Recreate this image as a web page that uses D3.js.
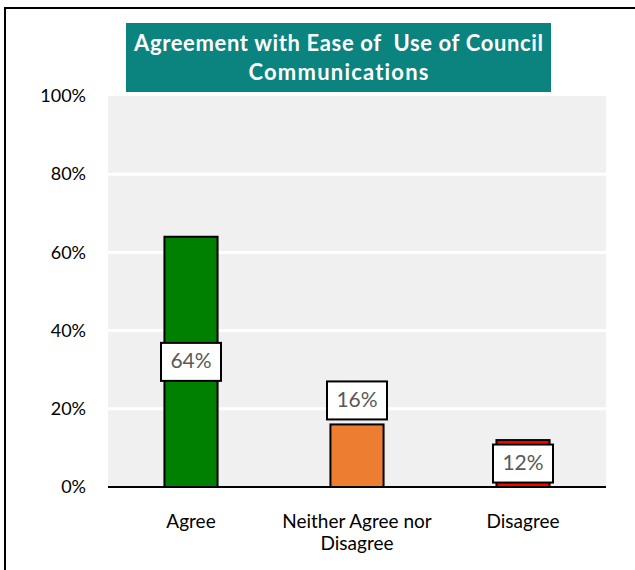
<!DOCTYPE html>
<html>
<head>
<meta charset="utf-8">
<script src="https://cdn.jsdelivr.net/npm/d3@7"></script>
<style>
  html, body { margin: 0; padding: 0; background: #fff; }
  svg { display: block; }
  text { font-variant-ligatures: none; }
</style>
</head>
<body>
<svg id="chart" width="635" height="570"></svg>
<script>
// Survey results: agreement with ease of use of council communications
const categories = ["Agree", "Neither Agree nor Disagree", "Disagree"];
const categoryLines = [["Agree"], ["Neither Agree nor", "Disagree"], ["Disagree"]];
const values = [64, 16, 12];
const barColors = ["#008000", "#ed7d31", "#ff0000"];
const labelPlacement = ["center", "outside", "center"];
const yTicks = [0, 20, 40, 60, 80, 100];
const titleLines = ["Agreement with Ease of  Use of Council", "Communications"];

const svg = d3.select("#chart");
const font = "Lato, 'Noto Sans', sans-serif";

// outer frame
svg.append("path")
  .attr("d", "M5,570 V8 H640")
  .attr("fill", "none")
  .attr("stroke", "#000")
  .attr("stroke-width", 2);

const plot = { left: 108, right: 606, top: 96, bottom: 487 };

const x = d3.scaleBand()
  .domain(categories)
  .range([plot.left, plot.right])
  .paddingInner(0.68)
  .paddingOuter(0.34);

const y = d3.scaleLinear()
  .domain([0, 100])
  .range([plot.bottom, plot.top]);

// plot background
svg.append("rect")
  .attr("x", plot.left).attr("y", plot.top)
  .attr("width", plot.right - plot.left)
  .attr("height", plot.bottom - plot.top)
  .attr("fill", "#f0f0f0");

// gridlines
svg.append("g")
  .selectAll("line")
  .data(yTicks.filter(t => t > 0 && t < 100))
  .join("line")
  .attr("x1", plot.left).attr("x2", plot.right)
  .attr("y1", d => y(d)).attr("y2", d => y(d))
  .attr("stroke", "#fff")
  .attr("stroke-width", 3);

// y axis labels
const yAxis = svg.append("g")
  .attr("transform", `translate(${plot.left},0)`)
  .call(d3.axisLeft(y).tickValues(yTicks).tickFormat(d => d + "%").tickSize(0).tickPadding(22));
yAxis.select(".domain").remove();
yAxis.selectAll("text")
  .attr("font-family", font)
  .attr("font-size", 18)
  .attr("fill", "#000");

// bars
svg.append("g")
  .selectAll("rect")
  .data(categories)
  .join("rect")
  .attr("x", d => x(d))
  .attr("y", (d, i) => y(values[i]))
  .attr("width", x.bandwidth())
  .attr("height", (d, i) => y(0) - y(values[i]))
  .attr("fill", (d, i) => barColors[i])
  .attr("stroke", "#000")
  .attr("stroke-width", 2);

// baseline
svg.append("line")
  .attr("x1", plot.left).attr("x2", plot.right)
  .attr("y1", y(0)).attr("y2", y(0))
  .attr("stroke", "#000")
  .attr("stroke-width", 2);

// category labels
const catG = svg.append("g");
categories.forEach((c, i) => {
  const t = catG.append("text")
    .attr("x", x(c) + x.bandwidth() / 2)
    .attr("y", 523)
    .attr("text-anchor", "middle")
    .attr("dominant-baseline", "middle")
    .attr("font-family", font)
    .attr("font-size", 19)
    .attr("fill", "#000");
  categoryLines[i].forEach((line, j) => {
    t.append("tspan")
      .attr("x", x(c) + x.bandwidth() / 2)
      .attr("dy", j === 0 ? 0 : 22)
      .text(line);
  });
});

// value labels in boxes
const boxW = 60, boxH = 38;
categories.forEach((c, i) => {
  const cx = x(c) + x.bandwidth() / 2;
  const cy = labelPlacement[i] === "center"
    ? (y(values[i]) + y(0)) / 2
    : y(values[i]) - boxH / 2 - 5;
  const g = svg.append("g");
  g.append("rect")
    .attr("x", cx - boxW / 2).attr("y", cy - boxH / 2)
    .attr("width", boxW).attr("height", boxH)
    .attr("fill", "#fff")
    .attr("stroke", "#000")
    .attr("stroke-width", 2);
  g.append("text")
    .attr("x", cx).attr("y", cy + 1)
    .attr("text-anchor", "middle")
    .attr("dominant-baseline", "middle")
    .attr("font-family", font)
    .attr("font-size", 21)
    .attr("fill", "#595959")
    .text(values[i] + "%");
});

// title banner
const titleBox = { x: 126, y: 23, w: 425, h: 69 };
const titleWidths = [409, 180];
svg.append("rect")
  .attr("x", titleBox.x).attr("y", titleBox.y)
  .attr("width", titleBox.w).attr("height", titleBox.h)
  .attr("fill", "#0b837f");
svg.append("text")
  .attr("text-anchor", "middle")
  .attr("font-family", font)
  .attr("font-weight", "bold")
  .attr("font-size", 22)
  .attr("fill", "#fff")
  .style("white-space", "pre")
  .selectAll("tspan")
  .data(titleLines)
  .join("tspan")
  .attr("x", titleBox.x + titleBox.w / 2)
  .attr("y", (d, i) => 51 + i * 29)
  .attr("textLength", (d, i) => titleWidths[i])
  .attr("lengthAdjust", "spacing")
  .text(d => d);
</script>
</body>
</html>
